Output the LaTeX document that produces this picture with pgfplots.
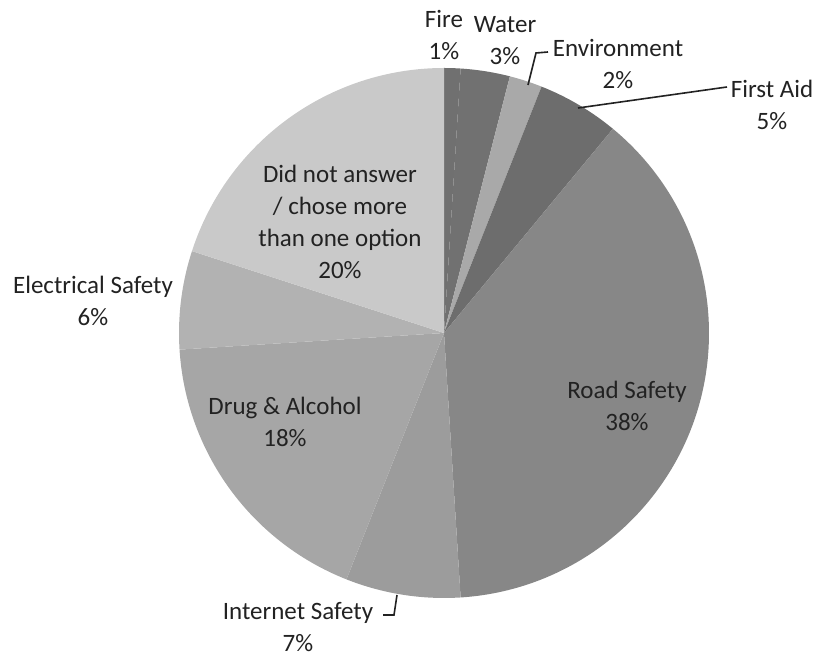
\documentclass[border=0pt]{standalone}
\usepackage{pgfplots}
\usepackage{pgfplotstable}
\pgfplotsset{compat=1.18}
\usepackage{fontspec}
\setmainfont{Carlito}

\definecolor{slice0}{HTML}{707070}
\definecolor{slice1}{HTML}{717171}
\definecolor{slice2}{HTML}{A9A9A9}
\definecolor{slice3}{HTML}{6D6D6D}
\definecolor{slice4}{HTML}{878787}
\definecolor{slice5}{HTML}{9C9C9C}
\definecolor{slice6}{HTML}{A6A6A6}
\definecolor{slice7}{HTML}{B2B2B2}
\definecolor{slice8}{HTML}{C9C9C9}
\definecolor{txt}{HTML}{222222}

% percentage share of each answer, and where its slice starts (cumulative %)
\pgfplotstableread{
name        start pct
Fire        0     1
Water       1     3
Environment 4     2
FirstAid    6     5
Road        11    38
Internet    49    7
Drug        56    18
Electrical  74    6
DidNot      80    20
}\piedata

\begin{document}
\begin{tikzpicture}
\begin{axis}[
  x=0.5pt, y=0.5pt,
  xmin=0, xmax=816, ymin=0, ymax=658,
  hide axis, clip=false,
  scale only axis,
]
\path (axis cs:0,0) rectangle (axis cs:816,658);
\pgfplotsinvokeforeach{0,...,8}{
  \pgfplotstablegetelem{#1}{start}\of\piedata \let\pstart\pgfplotsretval
  \pgfplotstablegetelem{#1}{pct}\of\piedata \let\ppct\pgfplotsretval
  \edef\temp{\noexpand\fill[fill=slice#1]
    (axis cs:444,325) -- ++({90-3.6*\pstart}:132.5pt)
    arc[start angle={90-3.6*\pstart}, end angle={90-3.6*(\pstart+\ppct)}, radius=132.5pt] -- cycle;}
  \temp
}
% leader lines
\draw[txt, line width=0.8pt] (axis cs:528,573) -- (axis cs:536,605) -- (axis cs:548,606);
\draw[txt, line width=0.8pt] (axis cs:578,550) -- (axis cs:727,571);
\draw[txt, line width=0.8pt] (axis cs:397,63) -- (axis cs:394,43) -- (axis cs:383,43);
% labels
\begin{scope}[every node/.style={text=txt, align=center, font=\fontsize{12.5}{16}\selectfont, inner sep=0pt}]
\node at (axis cs:444,623) {Fire\\1\%};
\node at (axis cs:505,617) {Water\\3\%};
\node at (axis cs:618,594) {Environment\\2\%};
\node at (axis cs:772,553) {First Aid\\5\%};
\node at (axis cs:627,252) {Road Safety\\38\%};
\node at (axis cs:298,31) {Internet Safety\\7\%};
\node at (axis cs:285,236) {Drug \& Alcohol\\18\%};
\node at (axis cs:93,357) {Electrical Safety\\6\%};
\node at (axis cs:340,436) {Did not answer\\/ chose more\\than one option\\20\%};
\end{scope}
\end{axis}
\end{tikzpicture}
\end{document}
